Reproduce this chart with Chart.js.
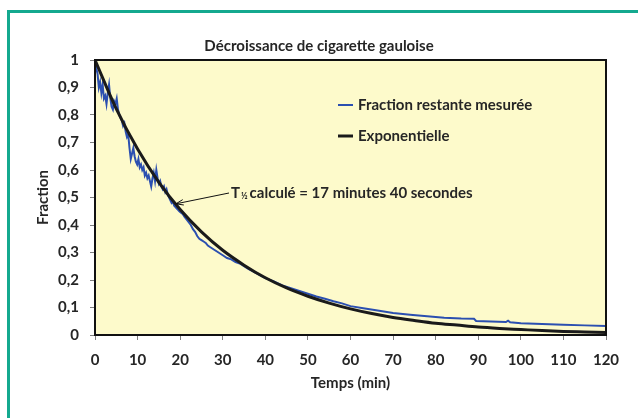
<!DOCTYPE html>
<html>
<head>
<meta charset="utf-8">
<script src="https://cdn.jsdelivr.net/npm/chart.js@4"></script>
<style>
  body { margin: 0; width: 638px; height: 418px; overflow: hidden; background: #fff; position: relative; }
  #frame { position: absolute; left: 7px; top: 10px; width: 700px; height: 500px; border: 3px solid #14a98f; box-sizing: border-box; }
  canvas { position: absolute; left: 0; top: 0; }
</style>
</head>
<body>
<div id="frame"></div>
<canvas id="chart" width="638" height="418"></canvas>
<script>
// mesures (temps en min, fraction restante)
const measuredTime = [
  0, 0.3, 0.6, 0.9, 1.2, 1.5, 1.8, 2.1, 2.4, 2.7, 3.0, 3.3, 3.6, 3.9, 4.2, 4.5, 4.8, 5.1, 5.4, 5.7,
  6.0, 6.3, 6.6, 6.9, 7.2, 7.5, 7.8, 8.1, 8.4, 8.7, 9.0, 9.3, 9.6, 9.9, 10.2, 10.5, 10.8, 11.1, 11.4, 11.7,
  12.0, 12.3, 12.6, 12.9, 13.2, 13.5, 13.8, 14.1, 14.4, 14.7, 15.0, 15.3, 15.6, 15.9, 16.2, 16.5, 16.8, 17.1, 17.4, 17.7,
  18.0, 18.3, 18.6, 18.9, 19.2, 19.5, 19.8, 20.2, 20.6, 21.0, 21.5, 22.0, 22.5, 23.0, 23.5, 24.0, 24.5, 25.0, 25.5, 26.0,
  26.5, 27, 28, 29, 30, 31, 32, 33, 34, 35, 36, 37, 38, 39, 40, 42, 44, 46, 48, 50,
  52, 54, 56, 58, 60, 63, 66, 70, 74, 78, 82, 86, 89, 89.5, 93, 96.5, 97, 97.5, 100, 105,
  110, 115, 120
];
const measuredFraction = [
  1.00, 0.97, 0.95, 0.90, 0.92, 0.88, 0.91, 0.86, 0.87, 0.84, 0.88, 0.91, 0.86, 0.83, 0.82, 0.85, 0.84, 0.86, 0.82, 0.80,
  0.79, 0.78, 0.76, 0.77, 0.74, 0.72, 0.73, 0.68, 0.64, 0.66, 0.68, 0.65, 0.63, 0.62, 0.64, 0.61, 0.62, 0.60, 0.61, 0.58,
  0.59, 0.57, 0.58, 0.56, 0.54, 0.57, 0.59, 0.56, 0.60, 0.57, 0.55, 0.56, 0.54, 0.53, 0.54, 0.52, 0.53, 0.51, 0.50, 0.49,
  0.48, 0.485, 0.47, 0.465, 0.46, 0.455, 0.45, 0.445, 0.44, 0.43, 0.42, 0.41, 0.40, 0.385, 0.375, 0.36, 0.35, 0.345, 0.34, 0.335,
  0.325, 0.32, 0.31, 0.30, 0.29, 0.28, 0.275, 0.265, 0.26, 0.25, 0.24, 0.232, 0.224, 0.215, 0.207, 0.195, 0.18, 0.17, 0.16, 0.15,
  0.14, 0.132, 0.123, 0.115, 0.105, 0.097, 0.09, 0.08, 0.074, 0.068, 0.063, 0.06, 0.059, 0.051, 0.049, 0.047, 0.052, 0.046, 0.043, 0.04,
  0.037, 0.035, 0.033
];

// courbe exponentielle
const expTime = [0, 5, 10, 15, 20, 25, 30, 35, 40, 45, 50, 55, 60, 65, 70, 75, 80, 85, 90, 95, 100, 105, 110, 115, 120];
const expFraction = [1.0, 0.822, 0.676, 0.555, 0.456, 0.375, 0.308, 0.254, 0.208, 0.171, 0.141, 0.116, 0.095, 0.078,
  0.064, 0.053, 0.043, 0.036, 0.029, 0.024, 0.020, 0.016, 0.013, 0.011, 0.009];

const xTickLabels = ['0', '10', '20', '30', '40', '50', '60', '70', '80', '90', '100', '110', '120'];
const yTickLabels = ['0', '0,1', '0,2', '0,3', '0,4', '0,5', '0,6', '0,7', '0,8', '0,9', '1'];

const seriesNames = ['Fraction restante mesurée', 'Exponentielle'];
const seriesColors = ['#2b4fb0', '#1a1a1a'];

const FONT = 'Lato, "Open Sans", sans-serif';
const TEXT = '#262626';

const decor = {
  id: 'decor',
  beforeDraw(chart) {
    const { ctx, chartArea: a } = chart;
    ctx.save();
    ctx.fillStyle = '#fdfacb';
    ctx.fillRect(a.left, a.top, a.right - a.left, a.bottom - a.top);
    ctx.restore();
  },
  afterDatasetsDraw(chart) {
    const { ctx, chartArea: a, scales } = chart;
    ctx.save();
    ctx.strokeStyle = '#111';
    ctx.lineWidth = 2;
    ctx.strokeRect(a.left, a.top, a.right - a.left, a.bottom - a.top);

    // légende
    ctx.font = 'bold 15px ' + FONT;
    ctx.fillStyle = TEXT;
    ctx.textBaseline = 'middle';
    const lx = 338, ly = [105, 136], lw = [2, 3];
    seriesNames.forEach((name, i) => {
      ctx.strokeStyle = seriesColors[i];
      ctx.lineWidth = lw[i];
      ctx.beginPath();
      ctx.moveTo(lx, ly[i]);
      ctx.lineTo(lx + 15, ly[i]);
      ctx.stroke();
      ctx.fillText(name, lx + 20, ly[i]);
    });

    // annotation T½
    const tipX = scales.x.getPixelForValue(19), tipY = scales.y.getPixelForValue(0.477);
    const tx = 231, ty = 193;
    ctx.strokeStyle = '#111';
    ctx.lineWidth = 1;
    ctx.beginPath();
    ctx.moveTo(tx - 2, ty);
    ctx.lineTo(tipX, tipY);
    const ang = Math.atan2(ty - tipY, tx - 2 - tipX);
    ctx.moveTo(tipX + 8 * Math.cos(ang - 0.35), tipY + 8 * Math.sin(ang - 0.35));
    ctx.lineTo(tipX, tipY);
    ctx.lineTo(tipX + 8 * Math.cos(ang + 0.35), tipY + 8 * Math.sin(ang + 0.35));
    ctx.stroke();

    ctx.fillStyle = TEXT;
    ctx.font = 'bold 15px ' + FONT;
    ctx.fillText('T', tx, ty);
    let x = tx + ctx.measureText('T').width + 1;
    ctx.font = 'bold 9px ' + FONT;
    ctx.fillText('½', x, ty + 3);
    x += ctx.measureText('½').width + 2;
    ctx.font = 'bold 15px ' + FONT;
    ctx.fillText('calculé = 17 minutes 40 secondes', x, ty);
    ctx.restore();
  }
};

const ctx = document.getElementById('chart').getContext('2d');

new Chart(ctx, {
  type: 'line',
  data: {
    datasets: [
      {
        label: seriesNames[0],
        data: measuredTime.map((t, i) => ({ x: t, y: measuredFraction[i] })),
        borderColor: seriesColors[0],
        borderWidth: 2,
        pointRadius: 0,
        tension: 0,
        order: 1
      },
      {
        label: seriesNames[1],
        data: expTime.map((t, i) => ({ x: t, y: expFraction[i] })),
        borderColor: seriesColors[1],
        borderWidth: 3,
        pointRadius: 0,
        cubicInterpolationMode: 'monotone',
        order: 0
      }
    ]
  },
  options: {
    responsive: false,
    animation: false,
    devicePixelRatio: 1,
    layout: { padding: 0 },
    plugins: {
      legend: { display: false },
      tooltip: { enabled: false },
      title: {
        display: true,
        text: 'Décroissance de cigarette gauloise',
        color: TEXT,
        font: { family: FONT, size: 15, weight: 'bold', lineHeight: 1.2 },
        padding: { top: 37, bottom: 5 }
      }
    },
    scales: {
      x: {
        type: 'linear',
        min: 0,
        max: 120,
        afterFit: (s) => { s.height = 83; },
        ticks: {
          stepSize: 10,
          padding: 11,
          color: TEXT,
          font: { family: FONT, size: 15, weight: 'bold' },
          callback: (v, i) => xTickLabels[i]
        },
        grid: { drawOnChartArea: false, drawTicks: true, tickLength: 5, color: '#808080' },
        border: { display: true, color: '#111', width: 2 },
        title: {
          display: true,
          text: 'Temps (min)',
          color: TEXT,
          font: { family: FONT, size: 15, weight: 'bold', lineHeight: 1.2 },
          padding: { top: 0, bottom: 26 }
        }
      },
      y: {
        min: 0,
        max: 1,
        afterFit: (s) => { s.width = 95; },
        ticks: {
          stepSize: 0.1,
          padding: 11,
          color: TEXT,
          font: { family: FONT, size: 15, weight: 'bold' },
          callback: (v, i) => yTickLabels[i]
        },
        grid: { drawOnChartArea: false, drawTicks: true, tickLength: 5, color: '#808080' },
        border: { display: true, color: '#111', width: 2 },
        title: {
          display: true,
          text: 'Fraction',
          color: TEXT,
          font: { family: FONT, size: 15, weight: 'bold', lineHeight: 1.2 },
          padding: { top: 34, bottom: 0 }
        }
      },
      // axe vide à droite pour réserver la marge
      yRight: {
        position: 'right',
        display: true,
        min: 0,
        max: 1,
        afterFit: (s) => { s.width = 32; },
        ticks: { display: false },
        grid: { display: false },
        border: { display: false }
      }
    }
  },
  plugins: [decor]
});
</script>
</body>
</html>
